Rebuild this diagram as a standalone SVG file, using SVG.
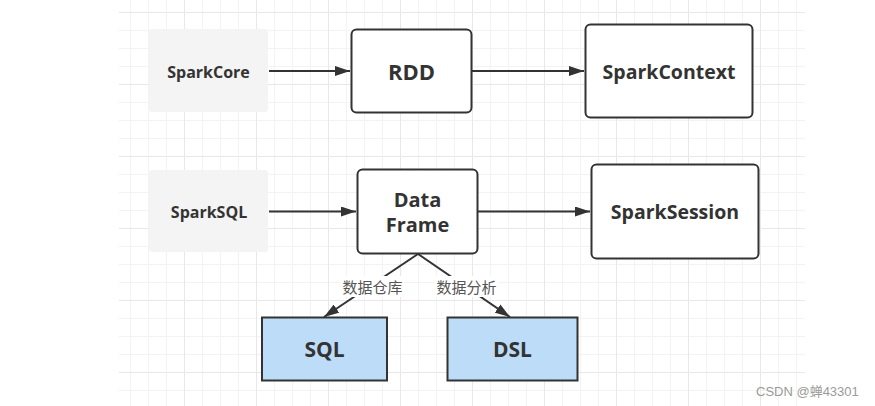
<svg xmlns="http://www.w3.org/2000/svg" width="875" height="406" viewBox="0 0 875 406">
<defs>
<pattern id="minor" patternUnits="userSpaceOnUse" x="130" y="12" width="18" height="18"><path d="M0.5 0V18M0 0.5H18" stroke="#f3f3f3" stroke-width="1" fill="none"/></pattern>
<pattern id="major" patternUnits="userSpaceOnUse" x="184" y="12" width="72" height="72"><path d="M0.5 0V72M0 0.5H72" stroke="#e8e8e8" stroke-width="1" fill="none"/></pattern>
<marker id="arr" viewBox="0 0 15 10" refX="15" refY="5" markerWidth="15" markerHeight="10" markerUnits="userSpaceOnUse" orient="auto"><path d="M0 0L15 5L0 10Z" fill="#333"/></marker>
<style>
.gray{fill:#f4f4f4;stroke:none}
.box{fill:#fff;stroke:#333;stroke-width:2}
.blue{fill:#bcdcf7;stroke:#333;stroke-width:2}
.t{font-family:"Open Sans","Liberation Sans",sans-serif;font-weight:bold;fill:#333;text-anchor:middle}
.lbl{font-family:"Noto Sans CJK SC","Noto Sans",sans-serif;font-size:15px;fill:#555;text-anchor:middle}
.edge{stroke:#333;stroke-width:2;fill:none;marker-end:url(#arr)}
</style>
</defs>
<rect width="875" height="406" fill="#fff"/>
<rect x="119" y="0" width="686" height="406" fill="url(#minor)"/>
<rect x="119" y="0" width="686" height="406" fill="url(#major)"/>

<g id="connectors">
<path class="edge" d="M269 71H350"/>
<path class="edge" d="M472 71H584"/>
<path class="edge" d="M269 211.5H356"/>
<path class="edge" d="M478 211.5H590"/>
<path class="edge" d="M418 254L324 317"/>
<path class="edge" d="M418 254L510 317"/>
<rect x="340" y="276" width="65" height="21" fill="#fff"/>
<rect x="434" y="276" width="65" height="21" fill="#fff"/>
<text class="lbl" x="372.5" y="292.5">数据仓库</text>
<text class="lbl" x="466.5" y="292.5">数据分析</text>
</g>

<g id="sparkcore">
<rect class="gray" x="149" y="29" width="119" height="83" rx="3"/>
<text class="t" x="208.5" y="77.5" font-size="16">SparkCore</text>
</g>
<g id="rdd">
<rect class="box" x="351.5" y="29.5" width="120" height="83" rx="5"/>
<text class="t" x="411.5" y="80" font-size="22">RDD</text>
</g>
<g id="sparkcontext">
<rect class="box" x="585.5" y="24.5" width="167" height="93" rx="5"/>
<text class="t" x="669" y="78.5" font-size="19.5">SparkContext</text>
</g>
<g id="sparksql">
<rect class="gray" x="149" y="170" width="119" height="82" rx="3"/>
<text class="t" x="209" y="217.5" font-size="16">SparkSQL</text>
</g>
<g id="dataframe">
<rect class="box" x="357.5" y="169.5" width="120" height="84" rx="5"/>
<text class="t" x="417.5" y="206.5" font-size="20">Data</text>
<text class="t" x="417.5" y="231.5" font-size="20">Frame</text>
</g>
<g id="sparksession">
<rect class="box" x="591.5" y="164.5" width="167" height="94" rx="5"/>
<text class="t" x="675" y="218.5" font-size="19.5">SparkSession</text>
</g>
<g id="sql">
<rect class="blue" x="262" y="317.5" width="125" height="63"/>
<text class="t" x="324.5" y="356.5" font-size="21">SQL</text>
</g>
<g id="dsl">
<rect class="blue" x="447.5" y="317.5" width="130" height="63"/>
<text class="t" x="512.5" y="356.5" font-size="21">DSL</text>
</g>
<text x="756" y="396" font-family="Liberation Sans,'Noto Sans CJK SC',sans-serif" font-size="13" fill="#9a9a9a">CSDN @蝉43301</text>
</svg>
